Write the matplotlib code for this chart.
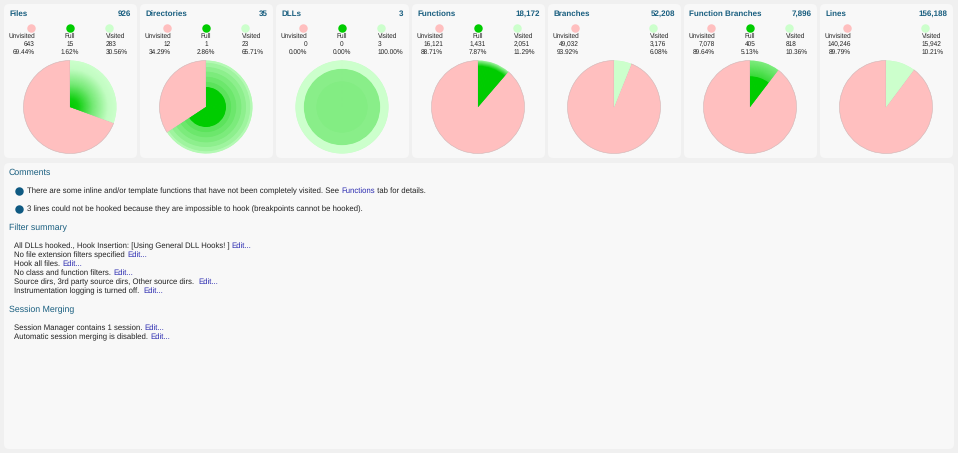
import matplotlib
matplotlib.use("Agg")
import matplotlib.pyplot as plt
from matplotlib.patches import FancyBboxPatch
import matplotlib.colors as mc
import numpy as np

W, H = 958, 453
plt.rcParams['font.family'] = ['Liberation Sans', 'DejaVu Sans']
plt.rcParams['text.hinting'] = 'no_hinting'

titles = ["Files", "Directories", "DLLs", "Functions", "Branches", "Function Branches", "Lines"]
totals = ["926", "35", "3", "18,172", "52,208", "7,896", "156,188"]
unvisited = [643, 12, 0, 16121, 49032, 7078, 140246]
full = [15, 1, 0, 1431, None, 405, None]
visited = [283, 23, 3, 2051, 3176, 818, 15942]
unvisited_pct = ["69.44%", "34.29%", "0.00%", "88.71%", "93.92%", "89.64%", "89.79%"]
full_pct = ["1.62%", "2.86%", "0.00%", "7.87%", None, "5.13%", None]
visited_pct = ["30.56%", "65.71%", "100.00%", "11.29%", "6.08%", "10.36%", "10.21%"]
# radial colour profile of the visited slice: (radius fraction, share of full green)
profiles = [
    [(0.0, 1), (0.18, 0.92), (0.5, 0.42), (0.82, 0.05), (1, 0)],
    [(0.0, 1), (0.43, 1), (0.44, 0.55), (0.54, 0.55), (0.55, 0.47), (0.65, 0.47), (0.66, 0.39), (0.76, 0.39),
     (0.77, 0.31), (0.86, 0.31), (0.87, 0.22), (0.95, 0.22), (0.96, 0.12), (1, 0.12)],
    [(0.0, 0.36), (0.55, 0.36), (0.56, 0.33), (0.82, 0.33), (0.83, 0), (1, 0)],
    [(0.0, 1), (0.88, 1), (1, 0.25)],
    [(0.0, 0), (1, 0)],
    [(0.0, 1), (0.66, 1), (0.67, 0.72), (1, 0.38)],
    [(0.0, 0), (1, 0)],
]
comments = ["There are some inline and/or template functions that have not been completely visited. See ",
            "3 lines could not be hooked because they are impossible to hook (breakpoints cannot be hooked)."]
filter_lines = [("All DLLs hooked., Hook Insertion: [Using General DLL Hooks! ] ", "Edit..."),
                ("No file extension filters specified ", "Edit..."),
                ("Hook all files. ", "Edit..."),
                ("No class and function filters. ", "Edit..."),
                ("Source dirs, 3rd party source dirs, Other source dirs.  ", "Edit..."),
                ("Instrumentation logging is turned off.  ", "Edit...")]
session_lines = [("Session Manager contains 1 session. ", "Edit..."),
                 ("Automatic session merging is disabled. ", "Edit...")]

RED, GREEN, LIGHT = "#ffbfbf", "#00cc00", "#ccffcc"
TITLE, LINK, TXT = "#1a5f80", "#2a2ab0", "#222222"
BODY = 5.6
SMALL = 4.7
g0, l0 = np.array(mc.to_rgb(GREEN)), np.array(mc.to_rgb(LIGHT))

fig = plt.figure(figsize=(W / 100, H / 100), dpi=100, facecolor="#f0f0f0")
bg = fig.add_axes([0, 0, 1, 1])
bg.set_xlim(0, W); bg.set_ylim(H, 0); bg.axis("off")

def panel(x0, y0, x1, y1):
    bg.add_patch(FancyBboxPatch((x0 + 4, y0 + 4), x1 - x0 - 8, y1 - y0 - 8,
                                boxstyle="round,pad=4,rounding_size=5", fc="#f8f8f8", ec="none"))

def label_with_link(x, y, s, link):
    t = bg.text(x, y, s, fontsize=BODY, color=TXT, va="baseline", ha="left")
    fig.canvas.draw()
    bb = t.get_window_extent()
    bg.text(bb.x1, y, link, fontsize=BODY, color=LINK, va="baseline", ha="left")

R = 46.5
for i, name in enumerate(titles):
    x0 = 4 + 136 * i
    panel(x0, 4, x0 + 133, 158)
    bg.text(x0 + 5, 16, name, fontsize=5.8, fontweight="bold", color=TITLE, va="baseline")
    bg.text(x0 + 127.5, 16, totals[i], fontsize=5.8, fontweight="bold", color=TITLE, va="baseline", ha="right")
    cols = [(x0 + 27, RED, "Unvisited", unvisited[i], unvisited_pct[i], "right", x0 + 31),
            (x0 + 66, GREEN, "Full", full[i], full_pct[i], "center", x0 + 66),
            (x0 + 105.5, LIGHT, "Visited", visited[i], visited_pct[i], "left", x0 + 101.7)]
    for cx, col, lab, val, pct, ha, tx in cols:
        if val is None:
            continue
        bg.scatter([cx], [28], s=37, color=col, linewidths=0, zorder=3)
        bg.text(tx, 38, lab, fontsize=SMALL, color=TXT, ha=ha, va="baseline")
        bg.text(tx, 46, f"{val:,}", fontsize=SMALL, color=TXT, ha=ha, va="baseline")
        bg.text(tx, 54, pct, fontsize=SMALL, color=TXT, ha=ha, va="baseline")
    cxp = x0 + 66
    pad = R + 1
    ax = fig.add_axes([(cxp - pad) / W, 1 - (107 + pad) / H, 2 * pad / W, 2 * pad / H])
    vals = [visited[i], unvisited[i]]
    wedges, _ = ax.pie(vals, colors=[LIGHT, RED], radius=R, startangle=90, counterclock=False,
                       wedgeprops=dict(linewidth=0.4, edgecolor="#d0b4b4"), frame=True)
    wedges[0].set_edgecolor("none")
    xp = [p[0] for p in profiles[i]]; yp = [p[1] for p in profiles[i]]
    for r in np.linspace(1, 0.01, 100):
        a = np.interp(r, xp, yp)
        c = a * g0 + (1 - a) * l0
        ax.pie(vals, colors=[c, "none"], radius=R * r, startangle=90, counterclock=False,
               wedgeprops=dict(linewidth=0, width=min(R * r, R * 0.025)), frame=True)
    ax.set_xlim(-pad, pad); ax.set_ylim(-pad, pad); ax.set_aspect("equal"); ax.axis("off")

panel(4, 163, 954, 449)
bg.text(9, 175, "Comments", fontsize=6.3, color=TITLE, va="baseline")
bg.scatter([18.7, 18.7], [190.7, 208.7], s=37, color="#0f5a82", linewidths=0)
t = bg.text(27, 193, comments[0], fontsize=BODY, color=TXT, va="baseline")
fig.canvas.draw(); e = t.get_window_extent().x1
t2 = bg.text(e, 193, "Functions", fontsize=BODY, color=LINK, va="baseline")
fig.canvas.draw(); e = t2.get_window_extent().x1
bg.text(e, 193, " tab for details.", fontsize=BODY, color=TXT, va="baseline")
bg.text(27, 211, comments[1], fontsize=BODY, color=TXT, va="baseline")
bg.text(9, 230, "Filter summary", fontsize=6.3, color=TITLE, va="baseline")
for k, (s, l) in enumerate(filter_lines):
    label_with_link(14, 248 + 9 * k, s, l)
bg.text(9, 312, "Session Merging", fontsize=6.3, color=TITLE, va="baseline")
for k, (s, l) in enumerate(session_lines):
    label_with_link(14, 330 + 9 * k, s, l)

fig.savefig("out.png", dpi=100, facecolor=fig.get_facecolor())
